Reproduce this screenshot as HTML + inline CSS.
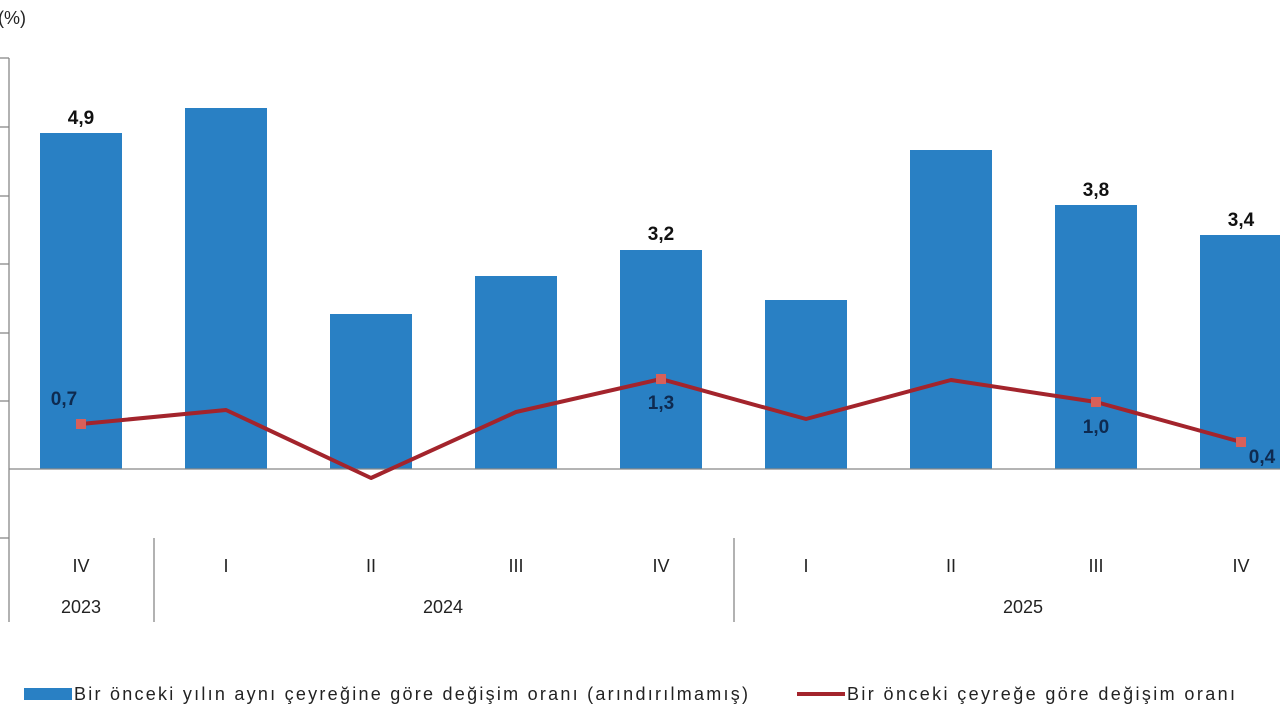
<!DOCTYPE html>
<html><head><meta charset="utf-8"><style>
body{margin:0;background:#fff;width:1280px;height:720px;overflow:hidden}
svg text{font-family:"Liberation Sans",Arial,sans-serif}
</style></head><body>
<svg width="1280" height="720" viewBox="0 0 1280 720">
<text x="-2" y="24" font-size="18" fill="#222">(%)</text>
<g stroke="#888" stroke-width="1.3">
<line x1="9" y1="58" x2="9" y2="622"/>
<line x1="0" y1="58" x2="9" y2="58"/><line x1="0" y1="127" x2="9" y2="127"/>
<line x1="0" y1="196" x2="9" y2="196"/><line x1="0" y1="264" x2="9" y2="264"/>
<line x1="0" y1="333" x2="9" y2="333"/><line x1="0" y1="401" x2="9" y2="401"/>
<line x1="0" y1="538" x2="9" y2="538"/>
<line x1="154" y1="538" x2="154" y2="622"/><line x1="734" y1="538" x2="734" y2="622"/>
</g>
<g fill="#2980c4">
<rect x="40" y="133" width="82" height="336"/>
<rect x="185" y="108" width="82" height="361"/>
<rect x="330" y="314" width="82" height="155"/>
<rect x="475" y="276" width="82" height="193"/>
<rect x="620" y="250" width="82" height="219"/>
<rect x="765" y="300" width="82" height="169"/>
<rect x="910" y="150" width="82" height="319"/>
<rect x="1055" y="205" width="82" height="264"/>
<rect x="1200" y="235" width="82" height="234"/>
</g>
<line x1="9" y1="469" x2="1280" y2="469" stroke="#888" stroke-width="1.3"/>
<polyline points="81,424 226,410 371,478 516,412 661,379 806,419 951,380 1096,402 1241,442" fill="none" stroke="#a3242c" stroke-width="4" stroke-linejoin="round"/>
<g fill="#d8605a">
<rect x="76" y="419" width="10" height="10"/><rect x="656" y="374" width="10" height="10"/>
<rect x="1091" y="397" width="10" height="10"/><rect x="1236" y="437" width="10" height="10"/>
</g>
<g font-size="19" font-weight="bold" fill="#111" text-anchor="middle">
<text x="81" y="124">4,9</text><text x="661" y="240">3,2</text>
<text x="1096" y="196">3,8</text><text x="1241" y="226">3,4</text>
</g>
<g font-size="19" font-weight="bold" fill="#0e2a50" text-anchor="middle">
<text x="64" y="405">0,7</text><text x="661" y="409">1,3</text>
<text x="1096" y="433">1,0</text><text x="1262" y="463">0,4</text>
</g>
<g font-size="18" fill="#222" text-anchor="middle">
<text x="81" y="572">IV</text><text x="226" y="572">I</text><text x="371" y="572">II</text>
<text x="516" y="572">III</text><text x="661" y="572">IV</text><text x="806" y="572">I</text>
<text x="951" y="572">II</text><text x="1096" y="572">III</text><text x="1241" y="572">IV</text>
<text x="81" y="613">2023</text><text x="443" y="613">2024</text><text x="1023" y="613">2025</text>
</g>
<rect x="24" y="688" width="48" height="12" fill="#2980c4"/>
<text x="74" y="700" font-size="18" fill="#222" textLength="674" lengthAdjust="spacing">Bir önceki yılın aynı çeyreğine göre değişim oranı (arındırılmamış)</text>
<line x1="797" y1="694" x2="845" y2="694" stroke="#a3242c" stroke-width="4"/>
<text x="847" y="700" font-size="18" fill="#222" textLength="388" lengthAdjust="spacing">Bir önceki çeyreğe göre değişim oranı</text>
</svg>
</body></html>
